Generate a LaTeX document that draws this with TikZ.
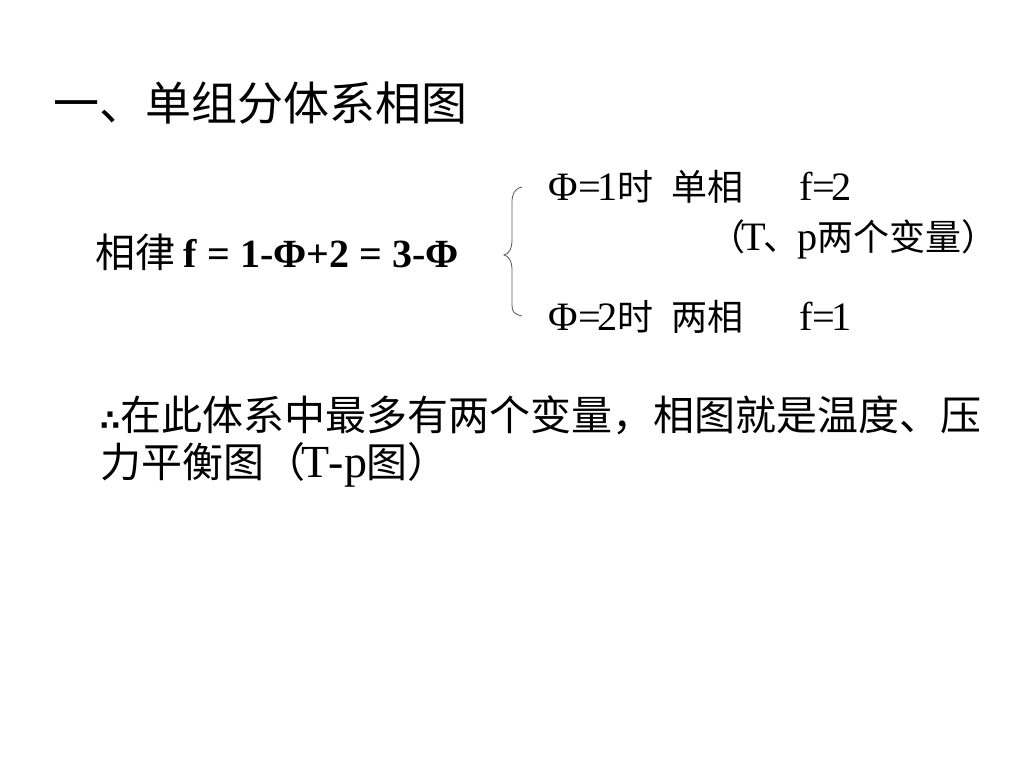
\documentclass[tikz,border=0pt]{standalone}
\usepackage{fontspec}
\setmainfont{Noto Sans CJK SC}
\newfontfamily\latfont{Liberation Serif}
\newfontfamily\latbig[Scale=1.12]{Liberation Serif}
\newfontfamily\symfont[Scale=0.7]{DejaVu Sans}
\newcommand{\hw}[1]{\makebox[0.5em]{\latbig #1}}
\newcommand{\fw}[1]{\makebox[1em]{\latbig #1}}
\begin{document}
\begin{tikzpicture}[x=1pt,y=-1pt,
  txt/.style={inner sep=0pt, outer sep=0pt, anchor=base west, text=black},
  bracestyle/.style={draw=black!65, line width=0.8pt}]
\useasboundingbox[fill=white] (0,0) rectangle (1024,768);

\node[txt, font=\fontsize{46}{54}\selectfont] (title) at (53,120) {一、单组分体系相图};

\node[txt, font=\fontsize{40}{48}\selectfont] (law) at (95,267) {相律 {\latfont\bfseries f = 1-Φ+2 = 3-Φ}};

\coordinate (btop) at (522,187);
\coordinate (btip) at (504,255);
\coordinate (bbot) at (522,316);
\draw[bracestyle] (btop) .. controls (514,189) and (512,194) .. (512,203) -- (512,240)
  .. controls (512,250) and (508,254) .. (btip)
  .. controls (508,256) and (512,260) .. (512,270) -- (512,305)
  .. controls (512,312) and (514,314) .. (bbot);

\node[txt, font=\fontsize{36}{44}\selectfont] (caseone) at (545,200)
  {\fw{Φ}\hw{=}\hw{1}时\hw{}单相\hw{}\hw{}\hw{}\hw{f}\hw{=}\hw{2}};
\node[txt, font=\fontsize{36}{44}\selectfont] (casenote) at (709,250)
  {（\hw{T}、\hw{p}两个变量）};
\node[txt, font=\fontsize{36}{44}\selectfont] (casetwo) at (545,330)
  {\fw{Φ}\hw{=}\hw{2}时\hw{}两相\hw{}\hw{}\hw{}\hw{f}\hw{=}\hw{1}};

\node[txt, font=\fontsize{41}{49}\selectfont] (concl) at (100,430)
  {\makebox[0.5em][l]{\symfont\bfseries ∴}在此体系中最多有两个变量，相图就是温度、压};
\node[txt, font=\fontsize{41}{49}\selectfont] (concltwo) at (100,477)
  {力平衡图（\hw{T}\hw{-}\hw{p}图）};
\end{tikzpicture}
\end{document}
